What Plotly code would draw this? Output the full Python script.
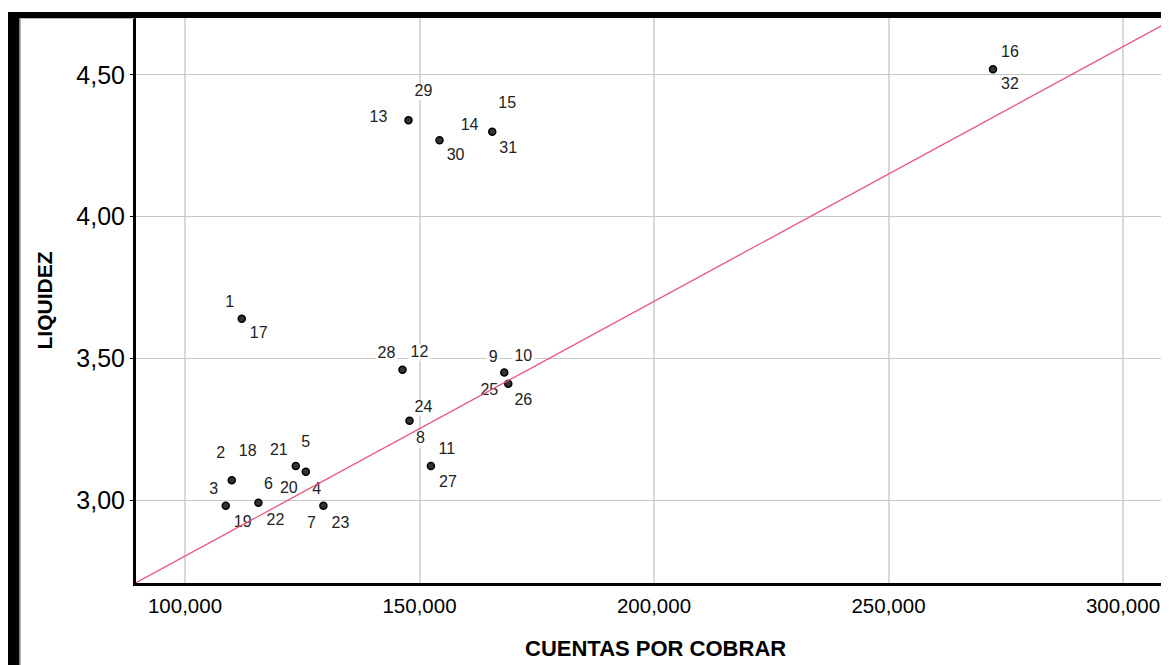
import plotly.graph_objects as go

# ---------------- data ----------------
case_ids_a = list(range(1, 17))
case_ids_b = list(range(17, 33))
cuentas = [112100, 109970, 108690, 125760, 123620, 115650, 129510, 147870,
           168080, 168930, 152430, 146370, 147650, 154270, 165510, 272280]
liquidez = [3.64, 3.07, 2.98, 3.10, 3.12, 2.99, 2.98, 3.28,
            3.45, 3.41, 3.12, 3.46, 4.34, 4.27, 4.30, 4.52]

x_tick_vals = [100000, 150000, 200000, 250000, 300000]
x_tick_text = ["100,000", "150,000", "200,000", "250,000", "300,000"]
y_tick_vals = [3.00, 3.50, 4.00, 4.50]
y_tick_text = ["3,00", "3,50", "4,00", "4,50"]

fit_intercept = 1.903
fit_slope = 8.99e-6

x_title = "CUENTAS POR COBRAR"
y_title = "LIQUIDEZ"

# label offsets (pixels, dy positive downwards) for case i and case i+16
offsets_a = [(-12, -16), (-11, -26), (-12, -16), (11, 18), (10, -23), (10, -18),
             (-12, 18), (11, 18), (-11, -15), (15, -27), (16, -16), (17, -17),
             (-30, -2), (30, -14), (15, -28), (17, -16)]
offsets_b = [(17, 15), (16, -28), (17, 17), (-17, 17), (-17, -15), (17, 18),
             (17, 18), (14, -13), (-15, 18), (15, 17), (17, 17), (-16, -16),
             (15, -28), (16, 16), (16, 17), (17, 16)]

# ---------------- layout geometry ----------------
OFF = 8  # page margin around the figure
W, H = 1161, 657
L, R, T, B = 128, 0, 10, 82
X_RANGE = [89552, 309808]
Y_RANGE = [2.7071, 4.7011]
pw = W - L - R
ph = H - T - B
sx = pw / (X_RANGE[1] - X_RANGE[0])
sy = ph / (Y_RANGE[1] - Y_RANGE[0])


def pxx(p):
    return (p - OFF - L) / pw


def pxy(p):
    return (H - B - (p - OFF)) / ph


FONT = "Liberation Sans, Arial, sans-serif"

lab_x, lab_y, lab_t = [], [], []
shapes = []
for offs, ids in ((offsets_a, case_ids_a), (offsets_b, case_ids_b)):
    for i, (dx, dy) in enumerate(offs):
        cx = cuentas[i] + dx / sx
        cy = liquidez[i] - dy / sy
        txt = str(ids[i])
        lab_x.append(cx)
        lab_y.append(cy)
        lab_t.append(txt)
        wbox = len(txt) * 9 + 4
        hbox = 16
        shapes.append(dict(type="rect", layer="between", xref="x", yref="y",
                           x0=cx - wbox / 2 / sx, x1=cx + wbox / 2 / sx,
                           y0=cy - hbox / 2 / sy, y1=cy + hbox / 2 / sy,
                           fillcolor="white", line=dict(width=0)))

fig = go.Figure()
fig.add_trace(go.Scatter(x=lab_x, y=lab_y, text=lab_t, mode="text",
                         textfont=dict(family=FONT, size=16, color="#222222"),
                         hoverinfo="skip", showlegend=False))
fig.add_trace(go.Scatter(x=cuentas, y=liquidez, mode="markers",
                         marker=dict(size=7, color="#333333",
                                     line=dict(color="black", width=1.5)),
                         showlegend=False))
fit_x = [X_RANGE[0], X_RANGE[1]]
fit_y = [fit_intercept + fit_slope * v for v in fit_x]
fig.add_trace(go.Scatter(x=fit_x, y=fit_y, mode="lines",
                         line=dict(color="#e8557c", width=1.3),
                         hoverinfo="skip", showlegend=False))

# frame decorations
shapes += [
    dict(type="rect", xref="paper", yref="paper", layer="above",
         x0=pxx(8), x1=pxx(19.5), y0=pxy(670), y1=pxy(12),
         fillcolor="black", line=dict(width=0)),
    dict(type="rect", xref="paper", yref="paper", layer="above",
         x0=pxx(8), x1=pxx(1175), y0=pxy(18), y1=pxy(12),
         fillcolor="black", line=dict(width=0)),
    dict(type="line", xref="paper", yref="paper", layer="above",
         x0=pxx(20.5), x1=pxx(20.5), y0=pxy(670), y1=pxy(18),
         line=dict(color="#b0b0b0", width=1)),
    dict(type="line", xref="paper", yref="paper", layer="above",
         x0=pxx(20), x1=pxx(134), y0=pxy(18.5), y1=pxy(18.5),
         line=dict(color="#b0b0b0", width=1)),
]

annotations = [
    dict(text=x_title, xref="paper", yref="paper", x=pxx(655), y=pxy(648),
         xanchor="center", yanchor="middle", showarrow=False,
         font=dict(family=FONT, size=22, color="black", weight="bold")),
    dict(text=y_title, xref="paper", yref="paper", x=pxx(43.5), y=pxy(301),
         xanchor="center", yanchor="middle", showarrow=False, textangle=-90,
         font=dict(family=FONT, size=21, color="black", weight="bold")),
]

fig.update_layout(
    width=W, height=H,
    margin=dict(l=L, r=R, t=T, b=B, pad=0),
    paper_bgcolor="white", plot_bgcolor="white",
    shapes=shapes, annotations=annotations,
    xaxis=dict(range=X_RANGE, tickvals=x_tick_vals, ticktext=x_tick_text,
               showgrid=True, gridcolor="#d9d9d9", gridwidth=2,
               zeroline=False, showline=True, linecolor="black", linewidth=3,
               ticks="", tickfont=dict(family=FONT, size=20.5, color="black"),
               ticklabelstandoff=2),
    yaxis=dict(range=Y_RANGE, tickvals=y_tick_vals, ticktext=y_tick_text,
               showgrid=True, gridcolor="#c8c8c8", gridwidth=1,
               zeroline=False, showline=True, linecolor="black", linewidth=3,
               ticks="outside", ticklen=3, tickcolor="black", tickwidth=1,
               tickfont=dict(family=FONT, size=25, color="black"),
               ticklabelstandoff=0),
    showlegend=False,
)

fig.write_html("out.html")
